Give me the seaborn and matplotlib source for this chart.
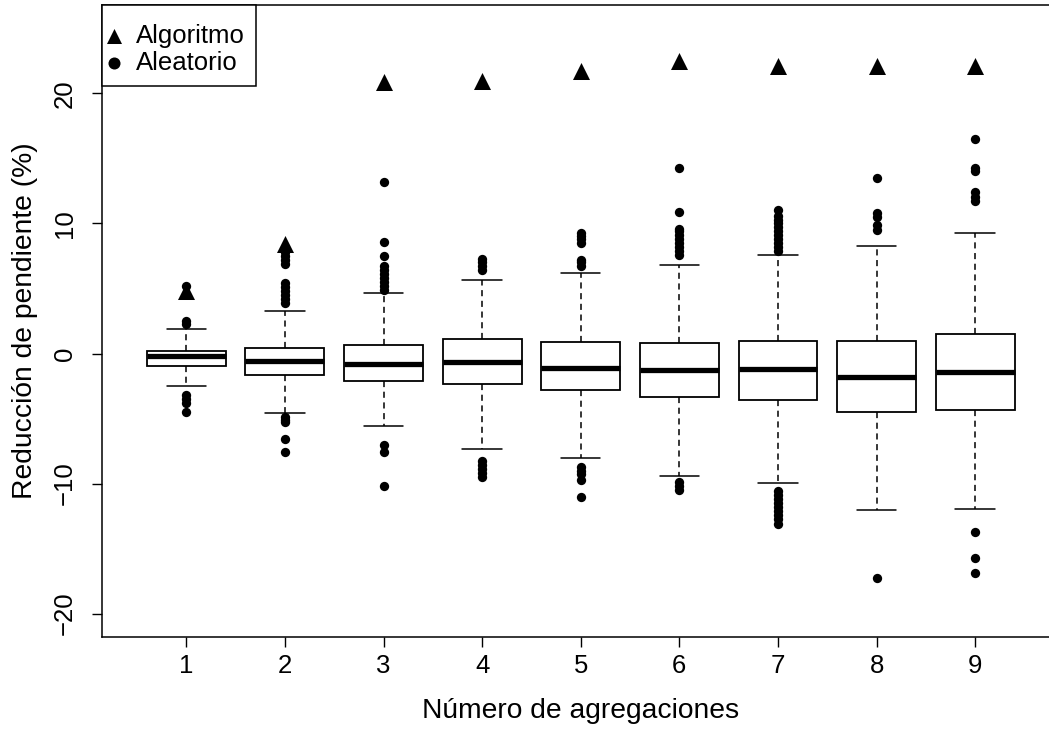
import matplotlib
matplotlib.use("Agg")
import matplotlib.pyplot as plt
import seaborn as sns
import pandas as pd

# ---------------- data ----------------
categories = [1, 2, 3, 4, 5, 6, 7, 8, 9]
medians = [-0.18, -0.55, -0.77, -0.62, -1.11, -1.24, -1.17, -1.77, -1.43]
q1 = [-0.96, -1.68, -2.11, -2.33, -2.80, -3.34, -3.59, -4.47, -4.34]
q3 = [0.17, 0.42, 0.64, 1.11, 0.90, 0.77, 0.93, 0.93, 1.49]
whisker_low = [-2.49, -4.59, -5.56, -7.35, -8.04, -9.39, -9.95, -12.05, -11.96]
whisker_high = [1.85, 3.24, 4.62, 5.69, 6.19, 6.82, 7.60, 8.29, 9.29]
algoritmo = [4.8, 8.4, 20.9, 20.95, 21.7, 22.5, 22.1, 22.1, 22.1]
aleatorio_fliers = [
    [2.3, 2.5, 5.2, -3.2, -3.5, -3.8, -4.5],
    [3.9, 4.2, 4.5, 4.8, 5.1, 5.4, 6.9, 7.2, 7.5, 7.8, -4.9, -5.1, -5.3, -6.6, -7.6],
    [4.9, 5.2, 5.5, 5.8, 6.1, 6.4, 6.7, 7.5, 8.6, 13.2, -7.0, -7.6, -10.2],
    [6.4, 6.7, 7.0, 7.3, -8.3, -8.6, -8.9, -9.2, -9.5],
    [6.75, 7.0, 7.2, 8.5, 8.8, 9.0, 9.3, -8.7, -9.0, -9.3, -9.7, -11.0],
    [7.6, 7.9, 8.2, 8.5, 8.8, 9.1, 9.4, 9.6, 10.9, 14.3, -9.9, -10.2, -10.5],
    [7.9, 8.2, 8.5, 8.8, 9.1, 9.4, 9.7, 10.0, 10.3, 10.6, 11.0,
     -10.6, -10.9, -11.2, -11.5, -11.8, -12.1, -12.4, -12.7, -13.1],
    [9.5, 9.9, 10.5, 10.8, 13.5, -17.3],
    [11.7, 12.0, 12.4, 14.0, 14.3, 16.5, -13.7, -15.7, -16.9],
]
xlabel = "Número de agregaciones"
ylabel = "Reducción de pendiente (%)"
yticks = [-20, -10, 0, 10, 20]

# ---------------- style ----------------
sns.set_style("ticks")
plt.rcParams["font.family"] = ["Liberation Sans", "DejaVu Sans"]
plt.rcParams["text.color"] = "black"
plt.rcParams["axes.labelcolor"] = "black"
plt.rcParams["xtick.color"] = "black"
plt.rcParams["ytick.color"] = "black"
FS = 18.5
FS_LAB = 20.3

fig = plt.figure(figsize=(10.49, 7.31), dpi=100)
W, H = 1049, 731
left_px, right_px, top_px, bottom_px = 101.5, 1060.0, 5.0, 637.0
ax = fig.add_axes([left_px / W, 1 - bottom_px / H,
                   (right_px - left_px) / W, (bottom_px - top_px) / H])

stats = []
for i, c in enumerate(categories):
    stats.append(dict(med=medians[i], q1=q1[i], q3=q3[i],
                      whislo=whisker_low[i], whishi=whisker_high[i],
                      fliers=[], label=str(c)))

ax.bxp(stats, positions=categories, widths=0.8, capwidths=0.4,
       showfliers=False, patch_artist=True,
       boxprops=dict(facecolor="white", edgecolor="black", linewidth=1.3),
       medianprops=dict(color="black", linewidth=3.8, solid_capstyle="butt"),
       whiskerprops=dict(color="black", linewidth=1.1, linestyle=(0, (4, 3))),
       capprops=dict(color="black", linewidth=1.1),
       manage_ticks=False)

fl_x, fl_y = [], []
for c, vals in zip(categories, aleatorio_fliers):
    fl_x += [c] * len(vals)
    fl_y += vals
df_fl = pd.DataFrame({"x": fl_x, "y": fl_y})
df_alg = pd.DataFrame({"x": categories, "y": algoritmo})

sns.scatterplot(data=df_alg, x="x", y="y", marker="^", s=150, color="black",
                linewidth=0, ax=ax, label="Algoritmo", zorder=5)
sns.scatterplot(data=df_fl, x="x", y="y", marker="o", s=45, color="black",
                linewidth=0, ax=ax, label="Aleatorio", zorder=4)

ax.set_xlim(0.14, 9.86)
ax.set_ylim(-21.8, 26.8)
ax.set_xticks(categories)
ax.set_xticklabels([str(c) for c in categories])
ax.set_yticks(yticks)
ax.set_yticklabels([str(v).replace("-", "\u2212") for v in yticks])
ax.tick_params(axis="both", length=7, width=1, color="black",
               labelsize=FS, labelcolor="black", pad=5)
ax.tick_params(axis="y", labelrotation=90, pad=10.5)
for lab in ax.get_yticklabels():
    lab.set_va("center")
ax.set_xlabel(xlabel, fontsize=FS_LAB, labelpad=15, color="black")
ax.set_ylabel(ylabel, fontsize=FS_LAB, labelpad=11, color="black")
for s in ax.spines.values():
    s.set_color("black")
    s.set_linewidth(1.1)

leg = ax.legend(loc="upper left", borderaxespad=0, fancybox=False,
                edgecolor="black", framealpha=1, fontsize=FS,
                handlelength=0.1, handletextpad=0.78,
                borderpad=0.45, labelspacing=0.12,
                title=" ", title_fontsize=3, labelcolor="black")
leg.get_frame().set_linewidth(1.1)
hs = leg.legend_handles
hs[0].set_sizes([117])
hs[1].set_sizes([75])

fig.savefig("out.png", dpi=100)
